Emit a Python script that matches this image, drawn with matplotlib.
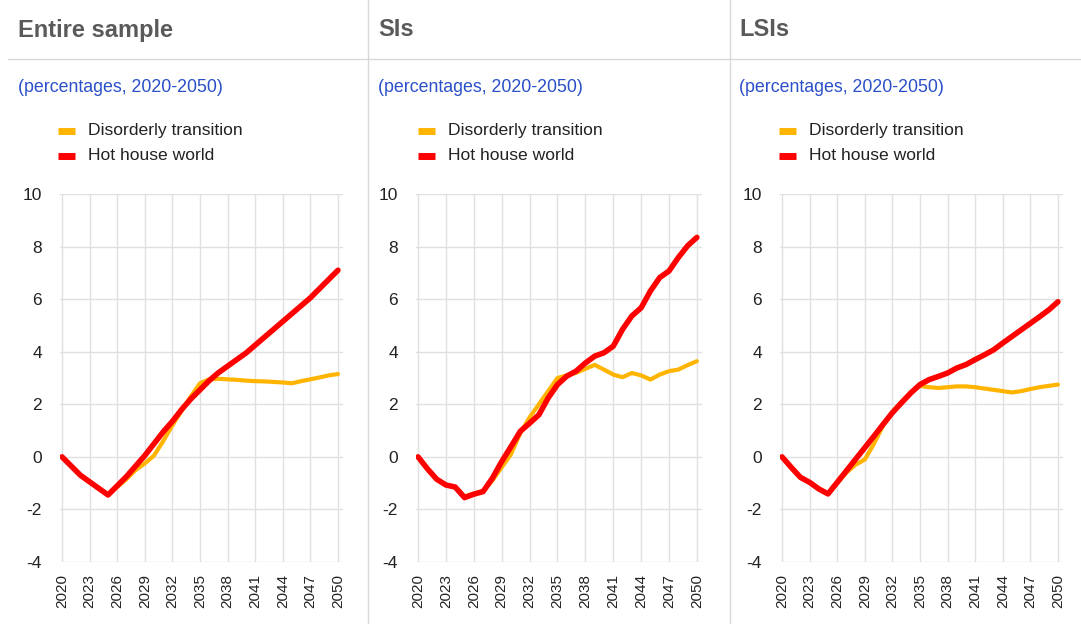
import numpy as np
import matplotlib
matplotlib.use("Agg")
import matplotlib.pyplot as plt
from matplotlib.lines import Line2D

plt.rcParams['font.family'] = ['Liberation Sans', 'DejaVu Sans']
plt.rcParams['axes.unicode_minus'] = False

# annual data, 2020-2050
years = list(range(2020, 2051))

titles = ["Entire sample", "SIs", "LSIs"]
subtitle = "(percentages, 2020-2050)"
series_names = ["Disorderly transition", "Hot house world"]

entire_disorderly = [0, -0.35, -0.7, -0.95, -1.2, -1.45, -1.15, -0.85, -0.5, -0.25,
                     0.05, 0.6, 1.2, 1.75, 2.3, 2.8, 2.95, 2.97, 2.95, 2.93,
                     2.9, 2.88, 2.87, 2.85, 2.83, 2.8, 2.88, 2.95, 3.02, 3.1, 3.15]
entire_hothouse = [0, -0.35, -0.7, -0.95, -1.2, -1.45, -1.1, -0.75, -0.35, 0.05,
                   0.5, 0.95, 1.35, 1.8, 2.2, 2.55, 2.9, 3.2, 3.45, 3.7,
                   3.95, 4.25, 4.55, 4.85, 5.15, 5.45, 5.75, 6.05, 6.4, 6.75, 7.1]

si_disorderly = [0, -0.45, -0.85, -1.07, -1.15, -1.5, -1.4, -1.3, -0.9, -0.4,
                 0.1, 0.9, 1.5, 2.0, 2.5, 3.0, 3.1, 3.2, 3.35, 3.5,
                 3.32, 3.13, 3.03, 3.19, 3.1, 2.94, 3.13, 3.26, 3.32, 3.49, 3.64]
si_hothouse = [0, -0.45, -0.85, -1.07, -1.15, -1.55, -1.42, -1.32, -0.81, -0.18,
               0.39, 0.97, 1.28, 1.6, 2.24, 2.75, 3.07, 3.26, 3.57, 3.83,
               3.96, 4.21, 4.85, 5.36, 5.67, 6.31, 6.82, 7.07, 7.58, 8.03, 8.35]

lsi_disorderly = [0, -0.4, -0.78, -0.97, -1.22, -1.41, -1.0, -0.6, -0.3, -0.1,
                  0.5, 1.2, 1.7, 2.1, 2.45, 2.7, 2.65, 2.62, 2.65, 2.68,
                  2.68, 2.65, 2.6, 2.55, 2.5, 2.45, 2.5, 2.58, 2.65, 2.7, 2.75]
lsi_hothouse = [0, -0.4, -0.78, -0.97, -1.22, -1.41, -0.97, -0.53, -0.09, 0.35,
                0.79, 1.24, 1.68, 2.06, 2.43, 2.75, 2.94, 3.06, 3.19, 3.38,
                3.51, 3.7, 3.88, 4.07, 4.33, 4.58, 4.83, 5.08, 5.33, 5.59, 5.9]

panels = [(entire_disorderly, entire_hothouse),
          (si_disorderly, si_hothouse),
          (lsi_disorderly, lsi_hothouse)]

ORANGE = '#ffb400'
RED = '#ff0000'
GRID = '#e0e0e0'
TITLE_C = '#5a5a5a'
BLUE = '#2a4fc9'

W, H = 1081, 624
fig = plt.figure(figsize=(W / 100, H / 100), dpi=100)

# panel left edges (px) for the text block and the plot area
text_left = [18, 378, 739]
ax_left = [60, 416, 780]
ax_right = [343, 702, 1063]
ax_top, ax_bot = 194, 562

# separators
fig.add_artist(Line2D([8 / W, 1], [1 - 59 / H, 1 - 59 / H], color='#d8d8d8', lw=1))
for xs in [368, 730]:
    fig.add_artist(Line2D([xs / W, xs / W], [0, 1], color='#d8d8d8', lw=1))

for i, (dis, hot) in enumerate(panels):
    tx = text_left[i] / W
    fig.text(tx, 1 - 30 / H, titles[i], fontsize=17, fontweight='bold',
             color=TITLE_C, va='center', ha='left')
    fig.text(tx, 1 - 87 / H, subtitle, fontsize=12.8, color=BLUE,
             va='center', ha='left')
    # legend
    lx = text_left[i] + 40
    for j, (name, col) in enumerate(zip(series_names, [ORANGE, RED])):
        ly = 1 - (131 + 25 * j) / H
        fig.add_artist(Line2D([lx / W, (lx + 17) / W], [ly, ly], color=col,
                              lw=5, solid_capstyle='butt'))
        fig.text((lx + 30) / W, ly, name, fontsize=12.6, color='#222222',
                 va='center', ha='left')

    ax = fig.add_axes([ax_left[i] / W, 1 - ax_bot / H,
                       (ax_right[i] - ax_left[i]) / W, (ax_bot - ax_top) / H])
    ax.plot(years, dis, color=ORANGE, lw=3, solid_capstyle='round', zorder=3)
    ax.plot(years, hot, color=RED, lw=4, solid_capstyle='round', zorder=4)
    ax.set_ylim(-4, 10)
    ax.set_xlim(2019.78, 2050.55)
    ax.set_yticks(range(-4, 11, 2))
    ax.set_xticks(range(2020, 2051, 3))
    ax.set_xticklabels([str(y) for y in range(2020, 2051, 3)], rotation=90)
    ax.grid(True, color=GRID, lw=1)
    ax.set_axisbelow(True)
    for s in ax.spines.values():
        s.set_visible(False)
    ax.tick_params(length=0, colors='#222222')
    ax.tick_params(axis='y', pad=13, labelsize=12.5)
    ax.tick_params(axis='x', pad=9, labelsize=11)

fig.savefig('out.png', dpi=100)
